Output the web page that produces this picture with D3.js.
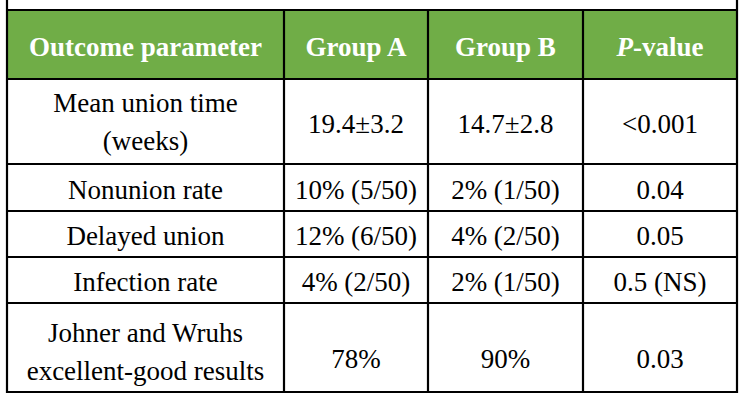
<!DOCTYPE html>
<html>
<head>
<meta charset="utf-8">
<script src="https://cdn.jsdelivr.net/npm/d3@7"></script>
<style>
  body { margin: 0; }
  .cell { font-family: "Times New Roman"; font-size: 27px; }
  .head { font-family: "Times New Roman"; font-size: 27px; font-weight: bold; }
</style>
</head>
<body>
<div id="table"></div>
<script>
// table content
const headers = ["Outcome parameter", "Group A", "Group B", "P-value"];
const parameters = [
  ["Mean union time", "(weeks)"],
  ["Nonunion rate"],
  ["Delayed union"],
  ["Infection rate"],
  ["Johner and Wruhs", "excellent-good results"]
];
const groupA = ["19.4±3.2", "10% (5/50)", "12% (6/50)", "4% (2/50)", "78%"];
const groupB = ["14.7±2.8", "2% (1/50)", "4% (2/50)", "2% (1/50)", "90%"];
const pValues = ["<0.001", "0.04", "0.05", "0.5 (NS)", "0.03"];

// layout (pixel grid of the table)
const width = 742, height = 400;
const colEdges = [7, 284, 428, 583, 737];
const rowEdges = [10, 79, 164, 211, 257, 303, 392];
const green = '#70ad47';
const lineGap = 38;
const baseOff = 11;       // baseline below the row centre for one line

const svg = d3.select('#table').append('svg')
    .attr('width', width)
    .attr('height', height);

const colMid = i => (colEdges[i] + colEdges[i + 1]) / 2;
const rowMid = i => (rowEdges[i] + rowEdges[i + 1]) / 2;

// header band
svg.append('rect')
    .attr('x', colEdges[0]).attr('y', rowEdges[0])
    .attr('width', colEdges[4] - colEdges[0])
    .attr('height', rowEdges[1] - rowEdges[0])
    .attr('fill', green);

function put(x, y, str, cls, fill) {
  return svg.append('text')
      .attr('class', cls)
      .attr('x', x)
      .attr('y', y)
      .attr('text-anchor', 'middle')
      .attr('fill', fill)
      .text(str);
}

headers.forEach((h, i) => {
  const y = rowMid(0) + baseOff;
  if (h === 'P-value') {
    const t = put(colMid(i), y, '', 'head', '#fff');
    t.append('tspan').style('font-style', 'italic').text('P');
    t.append('tspan').text('-value');
  } else {
    put(colMid(i), y, h, 'head', '#fff');
  }
});

// body rows
const rowShift = [0, 0, 0, 0, 9];
const labelShift = [-1.5, 0, 0, 0, 2];
parameters.forEach((lines, r) => {
  const c = rowMid(r + 1);
  if (lines.length === 1) {
    put(colMid(0), c + baseOff, lines[0], 'cell', '#000');
  } else {
    const mid = c + baseOff + labelShift[r];
    lines.forEach((ln, k) => put(colMid(0), mid + (k - 0.5) * lineGap, ln, 'cell', '#000'));
  }
  [groupA, groupB, pValues].forEach((col, j) => {
    put(colMid(j + 1), c + baseOff + rowShift[r], col[r], 'cell', '#000');
  });
});

// grid lines
const grid = svg.append('g').attr('stroke', '#000').attr('stroke-width', 2.2);
grid.selectAll('.h').data(rowEdges).join('line')
    .attr('x1', colEdges[0] - 1).attr('x2', colEdges[4] + 1)
    .attr('y1', d => d).attr('y2', d => d);
grid.selectAll('.v').data(colEdges).join('line')
    .attr('x1', d => d).attr('x2', d => d)
    .attr('y1', (d, i) => (i === 0 || i === colEdges.length - 1) ? 0 : rowEdges[0])
    .attr('y2', rowEdges[rowEdges.length - 1] + 1);
</script>
</body>
</html>
